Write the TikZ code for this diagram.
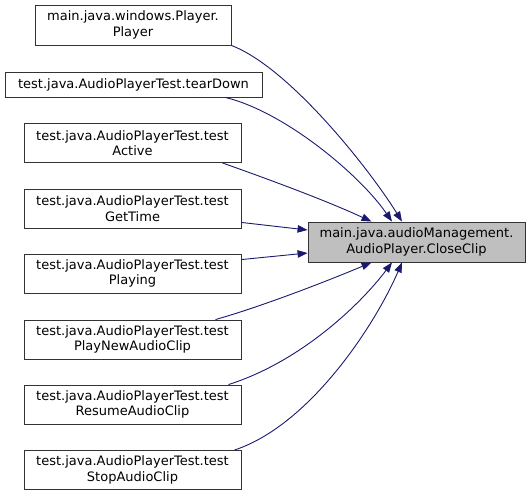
\documentclass[tikz,border=0pt]{standalone}
\usepackage{fontspec}
\setmainfont{DejaVu Sans}
\usetikzlibrary{arrows.meta}
\definecolor{edgeblue}{HTML}{191970}
\definecolor{tgtgray}{HTML}{BFBFBF}
\begin{document}
\begin{tikzpicture}[x=1pt,y=-1pt,
  box/.style={draw=black!80, line width=0.9pt, fill=white, inner sep=0pt, align=center,
    font=\fontsize{13}{15.5}\selectfont, minimum height=39pt},
  edge/.style={draw=edgeblue, line width=0.9pt, -{Triangle[length=10pt,width=7.5pt]}}]
\useasboundingbox (0,0) rectangle (531,496);
\node[box, minimum width=196pt, minimum height=40pt] (n1) at (133,25) {main.java.windows.Player.\\Player};
\node[box, minimum width=257pt, minimum height=25pt] (n2) at (133.5,84.5) {test.java.AudioPlayerTest.tearDown};
\node[box, minimum width=217pt] (n3) at (132.5,143) {test.java.AudioPlayerTest.test\\Active};
\node[box, minimum width=217pt] (n4) at (132.5,208.5) {test.java.AudioPlayerTest.test\\GetTime};
\node[box, minimum width=217pt] (n5) at (132.5,273.5) {test.java.AudioPlayerTest.test\\Playing};
\node[box, minimum width=217pt] (n6) at (132.5,339.5) {test.java.AudioPlayerTest.test\\PlayNewAudioClip};
\node[box, minimum width=217pt] (n7) at (132.5,404.5) {test.java.AudioPlayerTest.test\\ResumeAudioClip};
\node[box, minimum width=217pt] (n8) at (132.5,470) {test.java.AudioPlayerTest.test\\StopAudioClip};
\node[box, fill=tgtgray, minimum width=217pt, minimum height=40pt] (t) at (416.5,242) {main.java.audioManagement.\\AudioPlayer.CloseClip};

\coordinate (t1) at ([xshift=-14.5pt]t.north);
\coordinate (t2) at ([xshift=-24.5pt]t.north);
\coordinate (t3) at ([xshift=-45pt]t.north);
\coordinate (t6) at ([xshift=-45pt]t.south);
\coordinate (t7) at ([xshift=-24.5pt]t.south);
\coordinate (t8) at ([xshift=-14.5pt]t.south);

\draw[edge] (n1.south east) .. controls (290,68) and (370,170) .. (t1);
\draw[edge] ([xshift=-37pt]n2.south east) .. controls (285,112) and (360,175) .. (t2);
\draw[edge] ([xshift=-19pt]n3.south east) .. controls (265,178) and (325,200) .. (t3);
\draw[edge] ([yshift=6pt]n4.south east) -- ([yshift=12pt]t.west);
\draw[edge] ([yshift=-6pt]n5.north east) -- ([yshift=-11pt]t.west);
\draw[edge] ([xshift=-26pt]n6.north east) .. controls (260,307) and (325,282) .. (t6);
\draw[edge] ([xshift=-13pt]n7.north east) .. controls (300,362) and (360,305) .. (t7);
\draw[edge] ([xshift=-7pt]n8.north east) .. controls (310,425) and (375,325) .. (t8);
\end{tikzpicture}
\end{document}
